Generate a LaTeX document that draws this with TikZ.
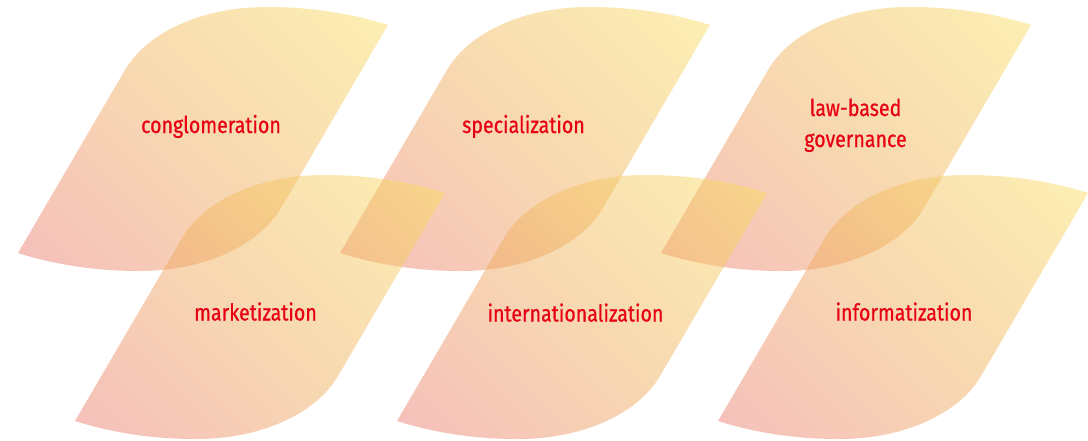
\documentclass[tikz,border=0pt]{standalone}
\usepackage{fontspec}
\usetikzlibrary{shadings}
\setmainfont{Fira Sans}
\newfontfamily\lblfont[FakeBold=0.6]{Fira Sans}
\newcommand\lbltext[1]{\scalebox{0.98}[1.16]{#1}}
\definecolor{lbred}{RGB}{230,0,18}
\definecolor{leafLL}{RGB}{232,110,115}
\definecolor{leafMid}{RGB}{241,175,90}
\definecolor{leafUR}{RGB}{252,232,95}
\pgfdeclarehorizontalshading{leafgrad}{100bp}{color(0bp)=(leafLL); color(8bp)=(leafLL); color(50bp)=(leafMid); color(92bp)=(leafUR); color(100bp)=(leafUR)}
\tikzset{
  leafstyle/.style={shading=leafgrad, shading angle=45, fill opacity=0.47},
  lbl/.style={text=lbred, font=\lblfont\fontsize{20}{31}\selectfont, align=center, inner sep=0pt, anchor=base},
  leafshape/.pic={
    \shade[leafstyle] (18,253) -- (125,70) .. controls (145,35.5) and (197,7) .. (267,7)
      .. controls (310,7) and (350,13) .. (388,25) -- (281,208)
      .. controls (261,242.5) and (209,271) .. (139,271)
      .. controls (96,271) and (56,265) .. (18,253) -- cycle;
  }
}
\begin{document}
\begin{tikzpicture}[x=1pt,y=-1pt]
\fill[white] (0,0) rectangle (1088,440);
\useasboundingbox (0,0) rectangle (1088,440);
\pic (s1) at (0,0) {leafshape};
\pic (s2) at (322,0) {leafshape};
\pic (s3) at (643,0) {leafshape};
\pic (s4) at (57,168) {leafshape};
\pic (s5) at (379,168) {leafshape};
\pic (s6) at (700,168) {leafshape};
\node[lbl] (t1) at (211,133) {\lbltext{conglomeration}};
\node[lbl] (t2) at (523.5,133) {\lbltext{specialization}};
\node[lbl] (t3) at (855.5,147) {\lbltext{law-based}\\\lbltext{governance}};
\node[lbl] (t4) at (255.5,320.5) {\lbltext{marketization}};
\node[lbl] (t5) at (575.5,321.5) {\lbltext{internationalization}};
\node[lbl] (t6) at (904,320.5) {\lbltext{informatization}};
\end{tikzpicture}
\end{document}
